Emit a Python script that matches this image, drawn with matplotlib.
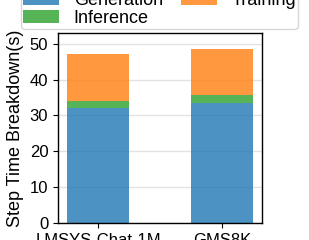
import numpy as np
import matplotlib
matplotlib.use("Agg")
import matplotlib.pyplot as plt

plt.rcParams["font.family"] = ["Liberation Sans", "DejaVu Sans"]

datasets = ["LMSYS-Chat-1M", "GMS8K"]
generation = [32.2, 33.6]
inference = [1.9, 2.0]
training = [13.0, 13.0]

x = np.arange(len(datasets))
gen = np.array(generation)
inf = np.array(inference)
trn = np.array(training)

fig = plt.figure(figsize=(3.09, 2.4), dpi=100)
ax = fig.add_axes([58 / 309, 17 / 240, 204 / 309, 190 / 240])

ax.grid(axis="y", color="#e2e2e2", linewidth=1.0, zorder=0)
ax.set_axisbelow(True)
ax.bar(x, gen, width=0.5, color="tab:blue", alpha=0.8, label="Generation", zorder=2)
ax.bar(x, inf, width=0.5, bottom=gen, color="tab:green", alpha=0.8, label="Inference", zorder=2)
ax.bar(x, trn, width=0.5, bottom=gen + inf, color="tab:orange", alpha=0.8, label="Training", zorder=2)

ax.set_ylim(0, 53)
ax.set_yticks([0, 10, 20, 30, 40, 50])
ax.set_xticks(x)
ax.set_xticklabels(datasets, fontsize=12)
ax.tick_params(axis="y", labelsize=12)
ax.set_ylabel("Step Time Breakdown(s)", fontsize=13)
for s in ax.spines.values():
    s.set_linewidth(1.0)

fig.legend(loc="lower left", bbox_to_anchor=(21 / 309, 211 / 240, 277 / 309, 0.1),
           mode="expand", ncol=2, fontsize=13, borderaxespad=0, labelspacing=0.06,
           borderpad=0.12)

fig.savefig("out.png", dpi=100)
